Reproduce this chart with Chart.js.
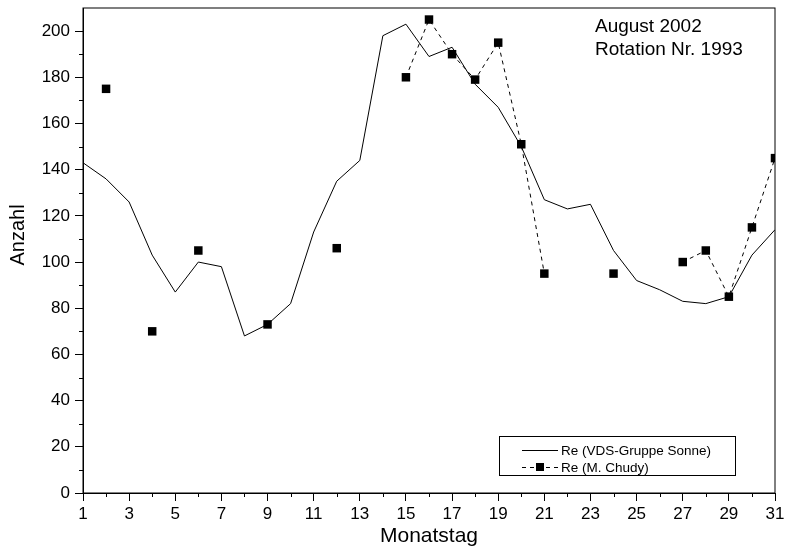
<!DOCTYPE html>
<html>
<head>
<meta charset="utf-8">
<script src="https://cdn.jsdelivr.net/npm/chart.js@4/dist/chart.umd.min.js"></script>
<style>
  html, body { margin: 0; padding: 0; background: #fff; }
  #wrap { width: 785px; height: 547px; }
</style>
</head>
<body>
<div id="wrap"><canvas id="myChart"></canvas></div>
<script>
// Monatstag 1..31, August 2002
const days = [1, 2, 3, 4, 5, 6, 7, 8, 9, 10, 11, 12, 13, 14, 15, 16,
              17, 18, 19, 20, 21, 22, 23, 24, 25, 26, 27, 28, 29, 30, 31];
const vdsValues = [143, 136, 126, 103, 87, 100, 98, 68, 73, 82, 113, 135, 144, 198, 203, 189,
                   193, 177, 167, 150, 127, 123, 125, 105, 92, 88, 83, 82, 85, 103, 114];
const chudyValues = [null, 175, null, 70, null, 105, null, null, 73, null, null, 106, null, null, 180, 205,
                     190, 179, 195, 151, 95, null, null, 95, null, null, 100, 105, 85, 115, 145];
const yTicks = [0, 20, 40, 60, 80, 100, 120, 140, 160, 180, 200];
const seriesNames = ['Re (VDS-Gruppe Sonne)', 'Re (M. Chudy)'];
const noteLines = ['August 2002', 'Rotation Nr. 1993'];
const yTitle = 'Anzahl';

const font = '"Liberation Sans", Arial, sans-serif';

function toPoints(vals) {
    return days.map(function (d, i) { return { x: d, y: vals[i] }; });
}

// frame, minor ticks, y title, note text and legend box
const extras = {
    id: 'extras',
    afterDraw: function (chart) {
        const ctx = chart.ctx;
        const a = chart.chartArea;
        const xs = chart.scales.x, ys = chart.scales.y;
        ctx.save();
        ctx.strokeStyle = '#000';
        ctx.lineWidth = 1;
        ctx.strokeRect(a.left, a.top, a.right - a.left, a.bottom - a.top);

        // minor ticks
        ctx.beginPath();
        days.forEach(function (d) {
            if (d % 2 === 0) {
                const px = Math.round(xs.getPixelForValue(d)) + 0.5;
                ctx.moveTo(px, a.bottom);
                ctx.lineTo(px, a.bottom + 4);
            }
        });
        for (let v = 10; v < 210; v += 20) {
            const py = Math.round(ys.getPixelForValue(v)) + 0.5;
            ctx.moveTo(a.left, py);
            ctx.lineTo(a.left - 4, py);
        }
        ctx.stroke();

        ctx.fillStyle = '#000';

        // y axis title
        ctx.save();
        ctx.translate(18, 235);
        ctx.rotate(-Math.PI / 2);
        ctx.font = '20px ' + font;
        ctx.textAlign = 'center';
        ctx.textBaseline = 'middle';
        ctx.fillText(yTitle, 0, 0);
        ctx.restore();

        // note
        ctx.font = '19px ' + font;
        ctx.textBaseline = 'alphabetic';
        ctx.fillText(noteLines[0], 595, 32);
        ctx.fillText(noteLines[1], 595, 55);

        // legend
        const bx = a.right - 276, by = a.bottom - 57, bw = 236, bh = 39;
        ctx.strokeRect(bx + 0.5, by + 0.5, bw, bh);
        ctx.font = '13.5px ' + font;
        ctx.textBaseline = 'middle';
        ctx.beginPath();
        ctx.moveTo(bx + 23, by + 14.5);
        ctx.lineTo(bx + 59, by + 14.5);
        ctx.stroke();
        ctx.fillText(seriesNames[0], bx + 62, by + 15);
        ctx.setLineDash([4, 4]);
        ctx.beginPath();
        ctx.moveTo(bx + 23, by + 31.5);
        ctx.lineTo(bx + 59, by + 31.5);
        ctx.stroke();
        ctx.setLineDash([]);
        ctx.fillRect(bx + 37, by + 27, 8, 8);
        ctx.fillText(seriesNames[1], bx + 62, by + 32);
        ctx.restore();
    }
};

const ctx = document.getElementById('myChart').getContext('2d');
new Chart(ctx, {
    type: 'line',
    data: {
        datasets: [
            {
                label: seriesNames[0],
                data: toPoints(vdsValues),
                borderColor: '#000',
                borderWidth: 1,
                pointRadius: 0,
                tension: 0
            },
            {
                label: seriesNames[1],
                data: toPoints(chudyValues),
                borderColor: '#000',
                borderWidth: 1,
                borderDash: [4, 4],
                pointStyle: 'rect',
                pointRadius: 6,
                pointBackgroundColor: '#000',
                pointBorderWidth: 0,
                spanGaps: false,
                tension: 0
            }
        ]
    },
    options: {
        responsive: true,
        maintainAspectRatio: false,
        animation: false,
        layout: { padding: { top: 8, left: 0, right: 0, bottom: 0 } },
        plugins: {
            legend: { display: false },
            tooltip: { enabled: false }
        },
        scales: {
            x: {
                type: 'linear',
                min: 1,
                max: 31,
                afterFit: function (scale) {
                    scale.height = 54;
                    scale.paddingLeft = 0;
                    scale.paddingRight = 10;
                },
                ticks: {
                    stepSize: 1,
                    autoSkip: false,
                    maxRotation: 0,
                    padding: 3,
                    color: '#000',
                    font: { family: font, size: 17 },
                    callback: function (v) { return v % 2 === 1 ? String(v) : ''; }
                },
                grid: {
                    drawOnChartArea: false,
                    tickLength: 8,
                    tickColor: function (c) { return c.tick && c.tick.value % 2 === 1 ? '#000' : 'rgba(0,0,0,0)'; }
                },
                border: { color: '#000', width: 1 },
                title: {
                    display: true,
                    text: 'Monatstag',
                    color: '#000',
                    font: { family: font, size: 21, lineHeight: 1 },
                    padding: { top: 2, bottom: 0 }
                }
            },
            y: {
                min: 0,
                max: 210,
                afterBuildTicks: function (scale) {
                    scale.ticks = yTicks.map(function (v) { return { value: v }; });
                },
                afterFit: function (scale) {
                    scale.width = 83;
                    scale.paddingTop = 0;
                    scale.paddingBottom = 0;
                },
                ticks: {
                    padding: 5,
                    color: '#000',
                    font: { family: font, size: 17 }
                },
                grid: {
                    drawOnChartArea: false,
                    tickLength: 8,
                    tickColor: '#000'
                },
                border: { color: '#000', width: 1 }
            }
        }
    },
    plugins: [extras]
});
</script>
</body>
</html>
